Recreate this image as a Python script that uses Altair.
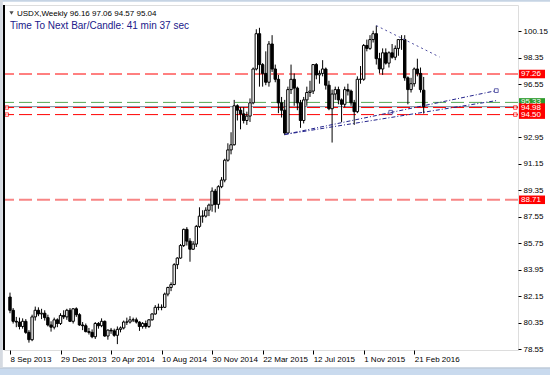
import altair as alt
import pandas as pd

# ---------------- text ----------------
symbol_header = "USDX,Weekly  96.16 97.06 94.57 95.04"
timer_text = "Time To Next Bar/Candle: 41 min 37 sec"

# ---------------- weekly candles (8 Sep 2013 .. 13 Mar 2016) ----------------
first_week = "2013-09-08"
week_count = 132
week_dates = pd.date_range(first_week, periods=week_count, freq="7D").strftime("%Y-%m-%d").tolist()

opens = [82.10, 81.20, 80.45, 80.40, 80.10, 80.45, 79.70, 79.20, 80.75, 81.20,
         80.95, 81.00, 80.70, 80.20, 80.05, 80.55, 80.30, 80.85, 80.75, 81.20,
         80.45, 81.30, 80.90, 80.20, 80.15, 79.75, 79.70, 79.40, 80.30, 80.15,
         80.45, 79.45, 79.85, 79.80, 79.50, 79.90, 80.00, 80.40, 80.40, 80.55,
         80.55, 80.40, 80.10, 80.30, 80.10, 80.55, 80.95, 81.40, 81.40, 81.40,
         82.30, 82.75, 82.95, 84.30, 84.75, 85.60, 86.70, 85.90, 85.35, 85.70,
         86.90, 87.60, 87.60, 88.00, 88.35, 89.30, 88.40, 89.60, 90.05, 91.40,
         92.10, 92.45, 95.10, 94.80, 94.55, 94.10, 94.40, 95.30, 97.60, 100.00,
         97.90, 97.30, 96.70, 99.30, 97.60, 96.90, 95.30, 94.80, 93.25, 96.20,
         96.90, 96.30, 95.30, 94.10, 95.50, 96.00, 96.10, 97.90, 97.20, 97.30,
         97.60, 96.50, 94.90, 95.90, 96.20, 95.50, 95.20, 96.20, 96.10, 95.30,
         94.70, 96.90, 96.90, 99.20, 99.00, 99.60, 100.00, 98.30, 97.60, 98.70,
         98.00, 98.70, 98.40, 99.00, 99.60, 99.60, 97.00, 96.20, 96.60, 97.60,
         97.30, 96.16]
highs = [82.40, 81.35, 80.75, 80.70, 80.65, 80.60, 79.85, 80.90, 81.45, 81.40,
         81.30, 81.20, 80.90, 80.45, 80.70, 80.65, 81.00, 81.20, 81.30, 81.35,
         81.35, 81.40, 81.00, 80.40, 80.30, 80.00, 79.90, 80.40, 80.40, 80.65,
         80.50, 79.90, 80.00, 79.95, 80.10, 80.10, 80.50, 80.70, 80.80, 80.70,
         80.70, 80.45, 80.40, 80.50, 80.60, 81.00, 81.55, 81.65, 81.60, 82.40,
         82.80, 83.10, 84.40, 84.80, 85.70, 86.75, 86.85, 86.10, 85.90, 87.00,
         88.20, 88.00, 88.20, 88.45, 89.55, 89.45, 89.70, 90.25, 91.50, 92.55,
         93.30, 95.50, 95.20, 95.00, 95.00, 94.70, 95.60, 97.70, 100.30, 100.40,
         98.00, 98.80, 99.50, 99.90, 97.90, 97.20, 95.70, 95.50, 96.40, 97.90,
         97.30, 96.40, 95.50, 95.70, 96.40, 96.80, 97.90, 98.00, 97.50, 98.20,
         97.70, 96.80, 96.20, 96.40, 96.40, 95.60, 96.40, 96.60, 96.20, 95.50,
         97.10, 97.80, 99.30, 99.60, 99.90, 100.20, 100.55, 98.70, 99.00, 99.00,
         98.80, 99.30, 99.20, 99.50, 99.90, 99.90, 97.10, 97.00, 97.70, 98.30,
         97.70, 97.06]
lows = [81.00, 80.30, 80.05, 79.90, 79.95, 79.60, 79.00, 79.10, 80.50, 80.80,
        80.60, 80.50, 80.10, 79.75, 79.90, 80.05, 80.20, 80.60, 80.55, 80.40,
        80.30, 80.75, 80.15, 79.85, 79.70, 79.55, 79.30, 79.25, 79.95, 80.05,
        79.40, 79.20, 79.60, 79.40, 78.90, 79.70, 79.90, 80.20, 80.30, 80.40,
        80.30, 79.80, 79.95, 79.95, 80.00, 80.50, 80.90, 81.20, 81.20, 81.35,
        82.15, 82.50, 82.90, 84.00, 84.70, 85.50, 85.60, 84.50, 85.30, 85.50,
        86.80, 87.15, 87.50, 87.60, 87.90, 87.85, 88.10, 89.50, 89.90, 91.30,
        91.80, 92.40, 94.10, 93.50, 93.90, 93.80, 94.00, 95.20, 97.50, 96.40,
        96.40, 96.50, 96.40, 97.40, 96.70, 94.60, 94.30, 93.10, 93.20, 95.90,
        95.10, 94.80, 93.60, 93.90, 95.10, 95.70, 95.90, 96.90, 96.60, 97.10,
        96.20, 94.80, 92.60, 95.50, 95.20, 94.00, 95.00, 95.80, 95.10, 93.80,
        94.60, 96.60, 96.80, 98.80, 98.90, 99.40, 97.90, 97.30, 97.20, 97.90,
        97.70, 98.30, 98.20, 98.50, 98.90, 96.80, 95.20, 96.00, 96.40, 97.10,
        96.00, 94.57]
closes = [81.20, 80.45, 80.40, 80.10, 80.45, 79.70, 79.20, 80.75, 81.20, 80.95,
          81.00, 80.70, 80.20, 80.05, 80.55, 80.30, 80.85, 80.75, 81.20, 80.45,
          81.30, 80.90, 80.20, 80.15, 79.75, 79.70, 79.40, 80.30, 80.15, 80.45,
          79.45, 79.85, 79.80, 79.50, 79.90, 80.00, 80.40, 80.40, 80.55, 80.55,
          80.40, 80.10, 80.30, 80.10, 80.55, 80.95, 81.40, 81.40, 81.40, 82.30,
          82.75, 82.95, 84.30, 84.75, 85.60, 86.70, 85.90, 85.35, 85.70, 86.90,
          87.60, 87.60, 88.00, 88.35, 89.30, 88.40, 89.60, 90.05, 91.40, 92.10,
          92.45, 95.10, 94.80, 94.55, 94.10, 94.40, 95.30, 97.60, 100.00, 97.90,
          97.30, 96.70, 99.30, 97.60, 96.90, 95.30, 94.80, 93.25, 96.20, 96.90,
          96.30, 95.30, 94.10, 95.50, 96.00, 96.10, 97.90, 97.20, 97.30, 97.60,
          96.50, 94.90, 95.90, 96.20, 95.50, 95.20, 96.20, 96.10, 95.30, 94.70,
          96.90, 96.90, 99.20, 99.00, 99.60, 100.00, 98.30, 97.60, 98.70, 98.00,
          98.70, 98.40, 99.00, 99.60, 99.60, 97.00, 96.20, 96.60, 97.60, 97.30,
          96.20, 95.04]

# ---------------- horizontal levels ----------------
level_red = [97.26, 94.98, 94.50]
level_pink = [88.71]
level_green = [95.33]
bid_price = [95.04]
anchor_prices = [94.98, 94.50]

label_prices = [97.26, 88.71, 95.33, 94.98, 94.50]
label_texts = ["97.26", "88.71", "95.33", "94.98", "94.50"]
label_colors = ["#FF0000", "#FF0000", "#2E9B2E", "#FF0000", "#FF0000"]

# ---------------- trend lines ----------------
up_ids = ["a", "a", "b", "b"]
up_dates = ["2015-05-10", "2016-08-21", "2015-05-10", "2016-08-21"]
up_prices = [93.15, 96.13, 93.15, 95.45]
up_mark_dates = ["2015-12-31", "2016-08-21"]
up_mark_prices = [94.66, 96.13]
down_dates = ["2015-11-29", "2016-04-17"]
down_prices = [100.55, 98.42]

# ---------------- axes ----------------
# (the 94.75 tick is hidden behind the price labels in the reference)
y_tick_values = [78.55, 80.35, 82.15, 83.95, 85.75, 87.55, 89.35, 91.15,
                 92.95, 96.55, 98.35, 100.15]
x_tick_days = [(2013, 9, 8), (2013, 12, 29), (2014, 4, 20), (2014, 8, 10),
               (2014, 11, 30), (2015, 3, 22), (2015, 7, 12), (2015, 11, 1),
               (2016, 2, 21)]

FONT = "Liberation Sans"
W, H = 514, 345

x_scale = alt.Scale(type="utc", domain=[
    alt.DateTime(year=2013, month=9, date=5, hours=19, utc=True),
    alt.DateTime(year=2016, month=9, date=27, utc=True)])
y_scale = alt.Scale(domain=[78.50, 101.95], nice=False, zero=False)

x_axis = alt.Axis(values=[alt.DateTime(year=a, month=b, date=c, utc=True) for a, b, c in x_tick_days],
                  format="%-d %b %Y", labelAlign="left", labelBaseline="top",
                  labelFont=FONT, labelFontSize=8, labelColor="black",
                  tickColor="black", tickSize=4, labelPadding=1,
                  domain=False, grid=False, title=None, labelOverlap=False, labelFlush=False)
y_axis = alt.Axis(values=y_tick_values, format=".2f", orient="right",
                  labelFont=FONT, labelFontSize=8, labelColor="black",
                  tickColor="black", tickSize=3, labelPadding=2,
                  domain=False, grid=False, title=None, labelOverlap=False, labelFlush=False)


def X(field):
    return alt.X(field, scale=x_scale, axis=x_axis)


def Y(field):
    return alt.Y(field, scale=y_scale, axis=y_axis)


candles = pd.DataFrame({"date": week_dates, "open": opens, "high": highs,
                        "low": lows, "close": closes})

# window chrome (decoration outside the plot)
one = pd.DataFrame({"k": [0]})
bottom_strip = alt.Chart(one).mark_rect(color="#C9DAEE", clip=False).encode(
    x=alt.value(-4), x2=alt.value(546), y=alt.value(363.5), y2=alt.value(371))
bottom_edge = alt.Chart(one).mark_rule(color="#9DB0C6", strokeWidth=1, clip=False).encode(
    x=alt.value(-4), x2=alt.value(546), y=alt.value(363))
top_strip = alt.Chart(one).mark_rect(color="#C6D4E4", clip=False).encode(
    x=alt.value(-4), x2=alt.value(546), y=alt.value(-5), y2=alt.value(-3.3))
left_strip = alt.Chart(one).mark_rect(color="#D5DAE1", clip=False).encode(
    x=alt.value(-4), x2=alt.value(-1.2), y=alt.value(-5), y2=alt.value(363))
left_border = alt.Chart(one).mark_rule(color="black", strokeWidth=2, clip=False).encode(
    x=alt.value(0), y=alt.value(0), y2=alt.value(H))

# horizontal level lines
red_lines = alt.Chart(pd.DataFrame({"p": level_red})).mark_rule(
    color="#FF0000", strokeWidth=1, strokeDash=[13, 5]).encode(y=Y("p:Q"))
pink_lines = alt.Chart(pd.DataFrame({"p": level_pink})).mark_rule(
    color="#F88585", strokeWidth=2, strokeDash=[13, 5]).encode(y=Y("p:Q"))
green_lines = alt.Chart(pd.DataFrame({"p": level_green})).mark_rule(
    color="#55A855", strokeWidth=1, strokeDash=[13, 5]).encode(y=Y("p:Q"))
bid_line = alt.Chart(pd.DataFrame({"p": bid_price})).mark_rule(
    color="#778899", strokeWidth=1).encode(y=Y("p:Q"))

# candles
base = alt.Chart(candles).encode(x=X("date:T"))
wicks = base.mark_rule(color="black", strokeWidth=1).encode(y=Y("low:Q"), y2="high:Q")
bodies = base.mark_bar(size=2.4, stroke="black", strokeWidth=1).encode(
    y=Y("open:Q"), y2="close:Q",
    fill=alt.condition("datum.close >= datum.open", alt.value("white"), alt.value("black")))

# trend lines
up_df = pd.DataFrame({"id": up_ids, "date": up_dates, "p": up_prices})
up_lines = alt.Chart(up_df).mark_line(color="#23238C", strokeWidth=1,
                                      strokeDash=[4, 2, 1, 2]).encode(
    x=X("date:T"), y=Y("p:Q"), detail="id:N")
up_marks = alt.Chart(pd.DataFrame({"date": up_mark_dates, "p": up_mark_prices})).mark_square(
    filled=False, color="#23238C", size=14, strokeWidth=1).encode(x=X("date:T"), y=Y("p:Q"))
down_line = alt.Chart(pd.DataFrame({"date": down_dates, "p": down_prices})).mark_line(
    color="#4D4DA0", strokeWidth=1, strokeDash=[2, 3]).encode(x=X("date:T"), y=Y("p:Q"))

# small anchors of the price lines
anchor_df = pd.DataFrame({"p": anchor_prices})
anchors_left = alt.Chart(anchor_df).mark_square(
    filled=True, fill="white", stroke="#FF0000", strokeWidth=1, size=12, clip=False).encode(
    x=alt.value(2.8), y=Y("p:Q"))
anchors_right = alt.Chart(anchor_df).mark_square(
    filled=True, fill="white", stroke="#FF0000", strokeWidth=1, size=12, clip=False).encode(
    x=alt.value(511.3), y=Y("p:Q"))

# price labels on the right scale
lab_df = pd.DataFrame({"p": label_prices, "t": label_texts, "c": label_colors})
lab_boxes = alt.Chart(lab_df).transform_calculate(
    top="datum.p + 0.29", bot="datum.p - 0.29").mark_rect(clip=False).encode(
    x=alt.value(515), x2=alt.value(541), y=Y("top:Q"), y2="bot:Q",
    fill=alt.Fill("c:N", scale=None))
lab_texts = alt.Chart(lab_df).mark_text(
    align="left", baseline="middle", font=FONT, fontSize=8, color="white", clip=False).encode(
    x=alt.value(517), y=Y("p:Q"), text="t:N")

# header
head_df = pd.DataFrame({"t": [symbol_header]})
header1 = alt.Chart(head_df).mark_text(
    align="left", baseline="alphabetic", font=FONT, fontSize=8, color="black").encode(
    x=alt.value(13), y=alt.value(11), text="t:N")
tri = alt.Chart(one).mark_point(shape="triangle-down", filled=True, color="black", size=18).encode(
    x=alt.value(7.5), y=alt.value(8))
timer_df = pd.DataFrame({"t": [timer_text]})
header2 = alt.Chart(timer_df).mark_text(
    align="left", baseline="alphabetic", font=FONT, fontSize=10, color="#20208A").encode(
    x=alt.value(6), y=alt.value(24), text="t:N")

chart = alt.layer(
    bottom_strip, bottom_edge, top_strip, left_strip,
    bid_line, green_lines, red_lines, pink_lines,
    wicks, bodies,
    up_lines, up_marks, down_line,
    anchors_left, anchors_right,
    lab_boxes, lab_texts,
    header1, tri, header2, left_border,
).properties(
    width=W, height=H,
    padding={"left": 4, "top": 5, "right": 32, "bottom": 25},
    autosize=alt.AutoSizeParams(type="none"),
).configure_view(stroke="black", strokeWidth=1).configure(background="white")

chart.save("out.html", embed_options={"renderer": "svg", "actions": False})
